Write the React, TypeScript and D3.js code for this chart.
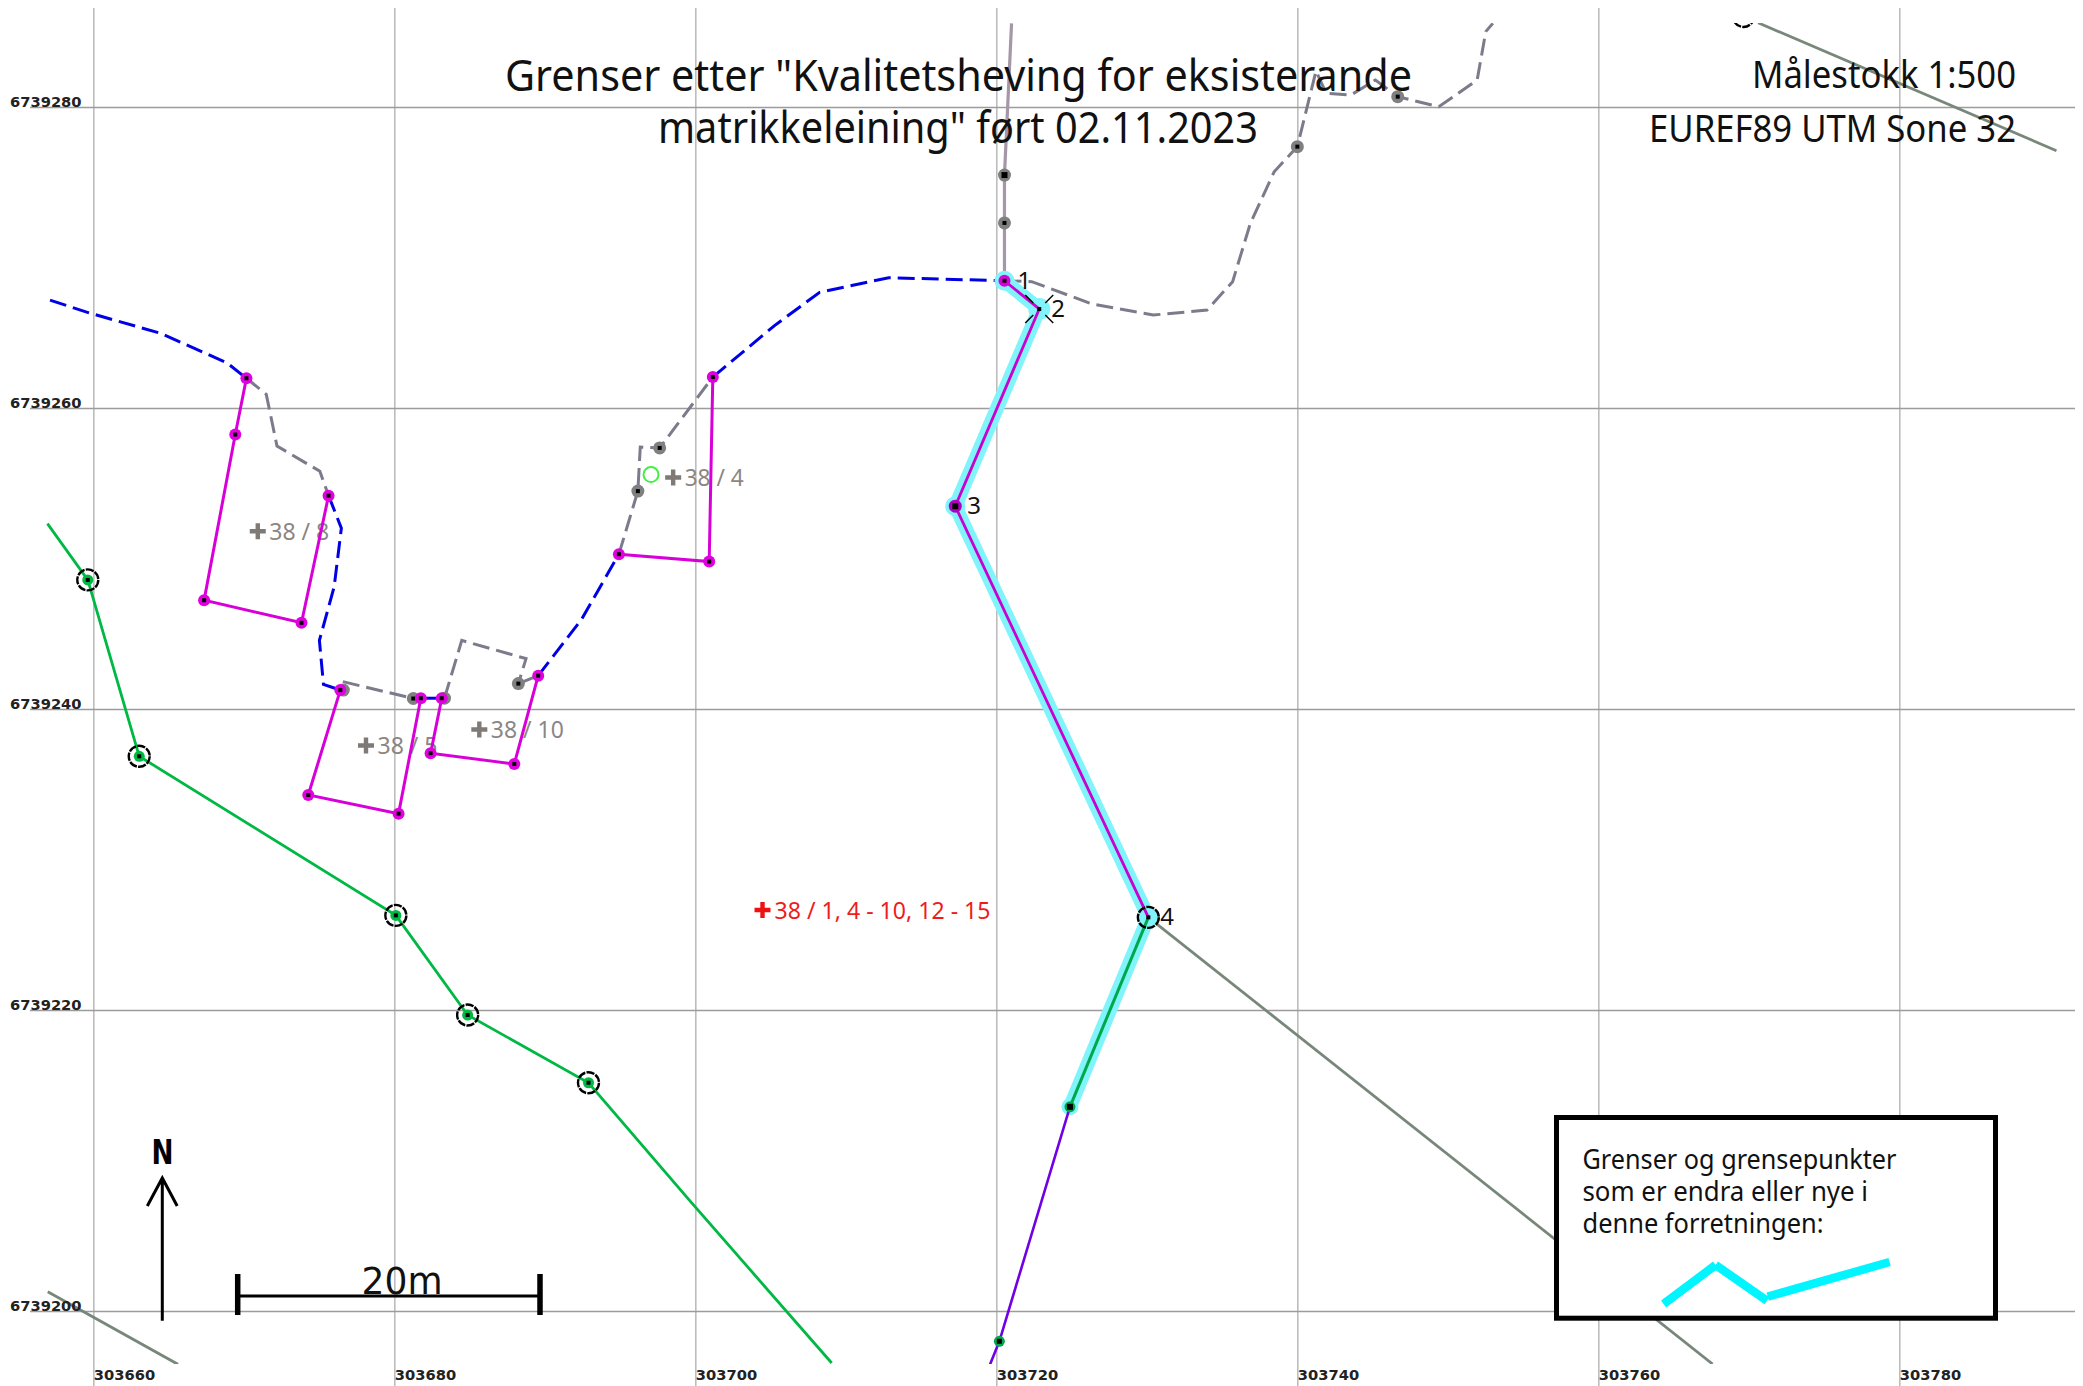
import React from "react";
import * as d3 from "d3";

type P = [number, number];

// ---- axis ticks ----
const eastTicks = [303660, 303680, 303700, 303720, 303740, 303760, 303780];
const northTicks = [6739280, 6739260, 6739240, 6739220, 6739200];

// ---- boundary points (easting, northing) ----
const A: P = [303670.14, 6739262.01];
const B: P = [303669.40, 6739258.27];
const C: P = [303667.33, 6739247.26];
const D: P = [303673.80, 6739245.76];
const E: P = [303675.60, 6739254.21];
const F: P = [303676.38, 6739241.29];
const G: P = [303674.25, 6739234.32];
const H: P = [303680.25, 6739233.08];
const I: P = [303681.73, 6739240.75];
const J: P = [303683.12, 6739240.75];
const K: P = [303682.38, 6739237.10];
const L: P = [303687.94, 6739236.38];
const M: P = [303689.53, 6739242.25];
const N: P = [303694.89, 6739250.32];
const O: P = [303700.89, 6739249.83];
const Q: P = [303701.13, 6739262.09];
const pt1: P = [303720.51, 6739268.49];
const pt2: P = [303722.82, 6739266.61];
const pt3: P = [303717.24, 6739253.51];
const pt4: P = [303730.07, 6739226.19];
const pt5: P = [303724.86, 6739213.60];
const pt6: P = [303720.17, 6739198.02];
const lineEnd: P = [303719.55, 6739196.48];
const greyA: P = [303676.58, 6739241.29];
const greyB: P = [303681.23, 6739240.73];
const greyC: P = [303683.30, 6739240.75];
const greyD: P = [303688.21, 6739241.72];
const greyE: P = [303696.15, 6739254.51];
const greyF: P = [303697.60, 6739257.38];
const greyG: P = [303739.97, 6739277.40];
const greyH: P = [303746.64, 6739280.72];
const topA: P = [303720.51, 6739275.51];
const topB: P = [303720.51, 6739272.33];
const g1: P = [303659.60, 6739248.61];
const g2: P = [303663.02, 6739236.89];
const g3: P = [303680.07, 6739226.32];
const g4: P = [303684.84, 6739219.70];
const g5: P = [303692.87, 6739215.20];
const topRing: P = [303769.61, 6739286.05];

// ---- purple parcel outlines ----
const parcel8 = [A, B, C, D, E];
const parcel5 = [F, G, H, I];
const parcel10 = [J, K, L, M];
const parcel4 = [N, O, Q];
const changedMagenta = [pt1, pt2, pt3, pt4];
const changedGreen = [pt4, pt5];
const violetLine = [pt5, pt6, lineEnd];

// ---- dashed blue boundaries ----
const blueDashed: P[][] = [
  [[303657.09, 6739267.20], [303659.70, 6739266.35], [303664.45, 6739264.99], [303668.85, 6739263.03], A],
  [E, [303676.45, 6739252.05], [303675.97, 6739248.15], [303674.99, 6739244.59], [303675.26, 6739241.67], F],
  [M, [303692.41, 6739245.99], N],
  [Q, [303705.23, 6739265.51], [303708.23, 6739267.72], [303712.82, 6739268.69], pt1],
];
const blueSolid = [I, J];

// ---- dashed grey boundaries ----
const greyDashed: P[][] = [
  [A, [303671.46, 6739260.94], [303672.17, 6739257.51], [303675.02, 6739255.83], E],
  [[303676.55, 6739241.85], greyB],
  [greyC, [303684.45, 6739244.59], [303688.72, 6739243.38], greyD],
  [N, greyE, [303696.31, 6739257.44], greyF, Q],
  [pt1, [303722.32, 6739268.43], [303726.33, 6739266.94], [303730.39, 6739266.21], [303733.97, 6739266.54],
    [303735.67, 6739268.43], [303736.85, 6739272.31], [303738.43, 6739275.73], greyG,
    [303741.21, 6739282.43], [303741.89, 6739280.94], [303743.53, 6739280.83], [303745.16, 6739281.83], greyH,
    [303749.37, 6739280.05], [303751.92, 6739281.83], [303752.49, 6739285.04], [303752.96, 6739285.59]],
];
const greySolid = [greyD, M];
const mauveLine: P[] = [[303720.98, 6739285.59], topA, topB, pt1];

// ---- other solid lines ----
const greenLine: P[] = [[303656.92, 6739252.35], g1, g2, g3, g4, g5, [303699.67, 6739207.28], [303709.03, 6739196.58]];
const olive: P[][] = [
  [pt4, [303767.56, 6739196.51]],
  [[303770.58, 6739285.63], [303790.41, 6739277.13]],
  [[303656.94, 6739201.31], [303665.59, 6739196.49]],
];

// ---- point groups ----
const magentaPoints = [A, B, C, D, E, F, G, H, I, J, K, L, M, N, O, Q];
const greyPoints = [greyA, greyB, greyC, greyD, greyE, greyF, greyG, greyH, topB];
const ringedPoints = [g1, g2, g3, g4, g5, topRing];

// ---- text ----
const titleLines = ['Grenser etter "Kvalitetsheving for eksisterande', 'matrikkeleining" ført 02.11.2023'];
const scaleText = "Målestokk 1:500";
const crsText = "EUREF89 UTM Sone 32";
const legendLines = ["Grenser og grensepunkter", "som er endra eller nye i", "denne forretningen:"];
const pointNames = ["1", "2", "3", "4"];
const parcelLabels: { text: string; at: P; len: number }[] = [
  { text: "38 / 8", at: [303671.66, 6739251.28], len: 60 },
  { text: "38 / 5", at: [303678.85, 6739237.04], len: 60 },
  { text: "38 / 10", at: [303686.38, 6739238.11], len: 73 },
  { text: "38 / 4", at: [303699.26, 6739254.85], len: 59 },
];
const redLabel = "38 / 1, 4 - 10, 12 - 15";
const redAt: P = [303705.23, 6739226.08];

const W = 2083;
const H_ = 1386;
const FONT = "'Noto Sans', sans-serif";

const x = d3.scaleLinear().domain([303660, 303780]).range([93.8, 1899.8]);
const y = d3.scaleLinear().domain([6739200, 6739280]).range([1311.5, 107.5]);
const line = d3.line<P>().x((d) => x(d[0])).y((d) => y(d[1]));
const fmt = d3.format("d");

const Dot = ({ p, r, fill, s = 4 }: { p: P; r: number; fill: string; s?: number }) => (
  <g>
    <circle cx={x(p[0])} cy={y(p[1])} r={r} fill={fill} />
    <rect x={x(p[0]) - s / 2} y={y(p[1]) - s / 2} width={s} height={s} fill="#000" />
  </g>
);

const Plus = ({ cx, cy, color }: { cx: number; cy: number; color: string }) => (
  <path d={`M${cx - 8},${cy}H${cx + 8}M${cx},${cy - 8}V${cy + 8}`} stroke={color} strokeWidth={4.4} fill="none" />
);

const Ring = ({ p, r = 10.5 }: { p: P; r?: number }) => (
  <circle cx={x(p[0])} cy={y(p[1])} r={r} fill="none" stroke="#000" strokeWidth={2.4} strokeDasharray="8.2 1.22" />
);

export default function App() {
  return (
    <svg width={W} height={H_} viewBox={`0 0 ${W} ${H_}`}
      style={{ position: "absolute", left: 0, top: 0, background: "#fff" }}>
      <defs>
        <clipPath id="mapClip"><rect x={0} y={23} width={W} height={1341} /></clipPath>
      </defs>

      {/* grid */}
      {eastTicks.map((v) => (
        <line key={v} x1={x(v)} x2={x(v)} y1={8} y2={1386} stroke="#bdbdbd" strokeWidth={1.6} />
      ))}
      {northTicks.map((v) => (
        <line key={v} x1={30} x2={2075} y1={y(v)} y2={y(v)} stroke="#9c9c9c" strokeWidth={1.4} />
      ))}

      <g clipPath="url(#mapClip)">
        {/* parcel labels */}
        {parcelLabels.map((l) => (
          <g key={l.text}>
            <Plus cx={x(l.at[0]) - 11.5} cy={y(l.at[1]) - 8.5} color="#7f7a76" />
            <text x={x(l.at[0])} y={y(l.at[1])} fontFamily={FONT} fontSize={24} fill="#8b8683"
              textLength={l.len} lengthAdjust="spacingAndGlyphs">{l.text}</text>
          </g>
        ))}
        <Plus cx={x(redAt[0]) - 12} cy={y(redAt[1]) - 9} color="#ee1111" />
        <text x={x(redAt[0])} y={y(redAt[1])} fontFamily={FONT} fontSize={24} fill="#ee1c1c"
          textLength={216} lengthAdjust="spacingAndGlyphs">{redLabel}</text>
        <circle cx={651} cy={474.6} r={7.5} fill="none" stroke="#44ee44" strokeWidth={2} />

        {/* other boundaries */}
        {olive.map((o, i) => (
          <path key={i} d={line(o)!} fill="none" stroke="#77877a" strokeWidth={2.8} />
        ))}
        <path d={line(greenLine)!} fill="none" stroke="#00b844" strokeWidth={2.8} />
        <path d={line(mauveLine)!} fill="none" stroke="#a597a8" strokeWidth={3.2} />

        {greyDashed.map((g, i) => (
          <path key={i} d={line(g)!} fill="none" stroke="#7b7b8c" strokeWidth={3} strokeDasharray="17 7" />
        ))}
        <path d={line(greySolid)!} fill="none" stroke="#7b7b8c" strokeWidth={3} />
        {blueDashed.map((g, i) => (
          <path key={i} d={line(g)!} fill="none" stroke="#0000e6" strokeWidth={3} strokeDasharray="17 7" />
        ))}
        <path d={line(blueSolid)!} fill="none" stroke="#0000e6" strokeWidth={3} />

        {/* highlighted changes */}
        <path d={line(changedMagenta)!} fill="none" stroke="#80f4fa" strokeWidth={14} strokeLinejoin="round" />
        <path d={line(changedGreen)!} fill="none" stroke="#80f4fa" strokeWidth={14} />
        <circle cx={x(pt1[0])} cy={y(pt1[1])} r={10} fill="#80f4fa" />
        <circle cx={x(pt2[0])} cy={y(pt2[1])} r={11} fill="#80f4fa" />
        <circle cx={x(pt3[0])} cy={y(pt3[1])} r={10} fill="#80f4fa" />
        <circle cx={x(pt4[0])} cy={y(pt4[1])} r={10.5} fill="#80f4fa" />
        <circle cx={x(pt5[0])} cy={y(pt5[1])} r={8.5} fill="#80f4fa" />

        <path d={line(violetLine)!} fill="none" stroke="#7000e6" strokeWidth={2.6} />
        <path d={line(changedGreen)!} fill="none" stroke="#00a84c" strokeWidth={3} />
        <path d={line(changedMagenta)!} fill="none" stroke="#c800d0" strokeWidth={2.8} />

        {/* parcel outlines */}
        {[parcel8, parcel5, parcel10, parcel4].map((p, i) => (
          <path key={i} d={line(p)!} fill="none" stroke="#d800d8" strokeWidth={3} />
        ))}

        {/* points */}
        {greyPoints.map((p, i) => <Dot key={i} p={p} r={6.5} fill="#808080" />)}
        <Dot p={topA} r={6.5} fill="#7f7f7f" s={6} />
        {magentaPoints.map((p, i) => <Dot key={i} p={p} r={6} fill="#e000e0" />)}
        <Dot p={pt1} r={6} fill="#d800d8" />
        <Dot p={pt3} r={6.5} fill="#b000c0" s={6} />
        <Dot p={pt2} r={0} fill="none" s={4} />
        <Dot p={pt4} r={0} fill="none" s={4} />
        <Dot p={pt5} r={5.5} fill="#00a84c" s={6} />
        <Dot p={pt6} r={5.5} fill="#00a84c" s={5} />
        {/* cross at point 2 */}
        {[[-1, -1], [1, -1], [-1, 1], [1, 1]].map(([sx, sy], i) => (
          <line key={i} x1={x(pt2[0]) + sx * 6} y1={y(pt2[1]) + sy * 6} x2={x(pt2[0]) + sx * 14} y2={y(pt2[1]) + sy * 14}
            stroke="#000" strokeWidth={1.4} />
        ))}
        {ringedPoints.map((p, i) => (
          <g key={i}>
            <Dot p={p} r={5.5} fill="#00b844" />
            <Ring p={p} />
          </g>
        ))}
        <Ring p={pt4} />

        {/* point numbers */}
        {[pt1, pt2, pt3, pt4].map((p, i) => (
          <text key={i} x={x(p[0]) + [13, 12, 12, 12][i]} y={y(p[1]) + 8} fontFamily={FONT} fontSize={24} fill="#111">
            {pointNames[i]}
          </text>
        ))}
      </g>

      {/* grid labels */}
      {eastTicks.map((v) => (
        <text key={v} x={x(v)} y={1380} fontFamily="'DejaVu Sans'" fontWeight="bold" fontSize={14.7} fill="#222">{fmt(v)}</text>
      ))}
      {northTicks.map((v) => (
        <text key={v} x={10} y={y(v) - 0.8} fontFamily="'DejaVu Sans'" fontWeight="bold" fontSize={14.7} fill="#222">{fmt(v)}</text>
      ))}

      {/* titles */}
      <text x={505} y={90.5} fontFamily={FONT} fontSize={43} fill="#111" textLength={907} lengthAdjust="spacingAndGlyphs">{titleLines[0]}</text>
      <text x={658} y={142.5} fontFamily={FONT} fontSize={43} fill="#111" textLength={600} lengthAdjust="spacingAndGlyphs">{titleLines[1]}</text>
      <text x={1752} y={88} fontFamily={FONT} fontSize={38} fill="#111" textLength={264} lengthAdjust="spacingAndGlyphs">{scaleText}</text>
      <text x={1649} y={142} fontFamily={FONT} fontSize={38} fill="#111" textLength={367} lengthAdjust="spacingAndGlyphs">{crsText}</text>

      {/* north arrow */}
      <text x={151.5} y={1164} fontFamily="'DejaVu Sans'" fontWeight="bold" fontSize={34} fill="#000" textLength={22} lengthAdjust="spacingAndGlyphs">N</text>
      <path d="M162.3,1320.7V1178M147.3,1206L162.3,1178L177.2,1206" fill="none" stroke="#000" strokeWidth={3} />

      {/* scale bar */}
      <path d="M237.7,1274V1315M540,1274V1315" stroke="#000" strokeWidth={5.5} fill="none" />
      <path d="M237.7,1296H540" stroke="#000" strokeWidth={3} fill="none" />
      <text x={361.5} y={1294} fontFamily="'DejaVu Sans'" fontSize={37} fill="#111" textLength={81} lengthAdjust="spacingAndGlyphs">20m</text>

      {/* legend */}
      <rect x={1556.5} y={1117.5} width={439} height={200.7} fill="#fff" stroke="#000" strokeWidth={5} />
      {legendLines.map((t, i) => (
        <text key={t} x={1582.5} y={1169 + i * 32} fontFamily={FONT} fontSize={27} fill="#111"
          textLength={[314, 285.5, 241][i]} lengthAdjust="spacingAndGlyphs">{t}</text>
      ))}
      <path d="M1663.6,1304L1715.6,1265M1715.6,1265L1767,1300.7M1767.7,1296.7L1889.6,1262" fill="none" stroke="#00f5ff" strokeWidth={8.5} />
    </svg>
  );
}
